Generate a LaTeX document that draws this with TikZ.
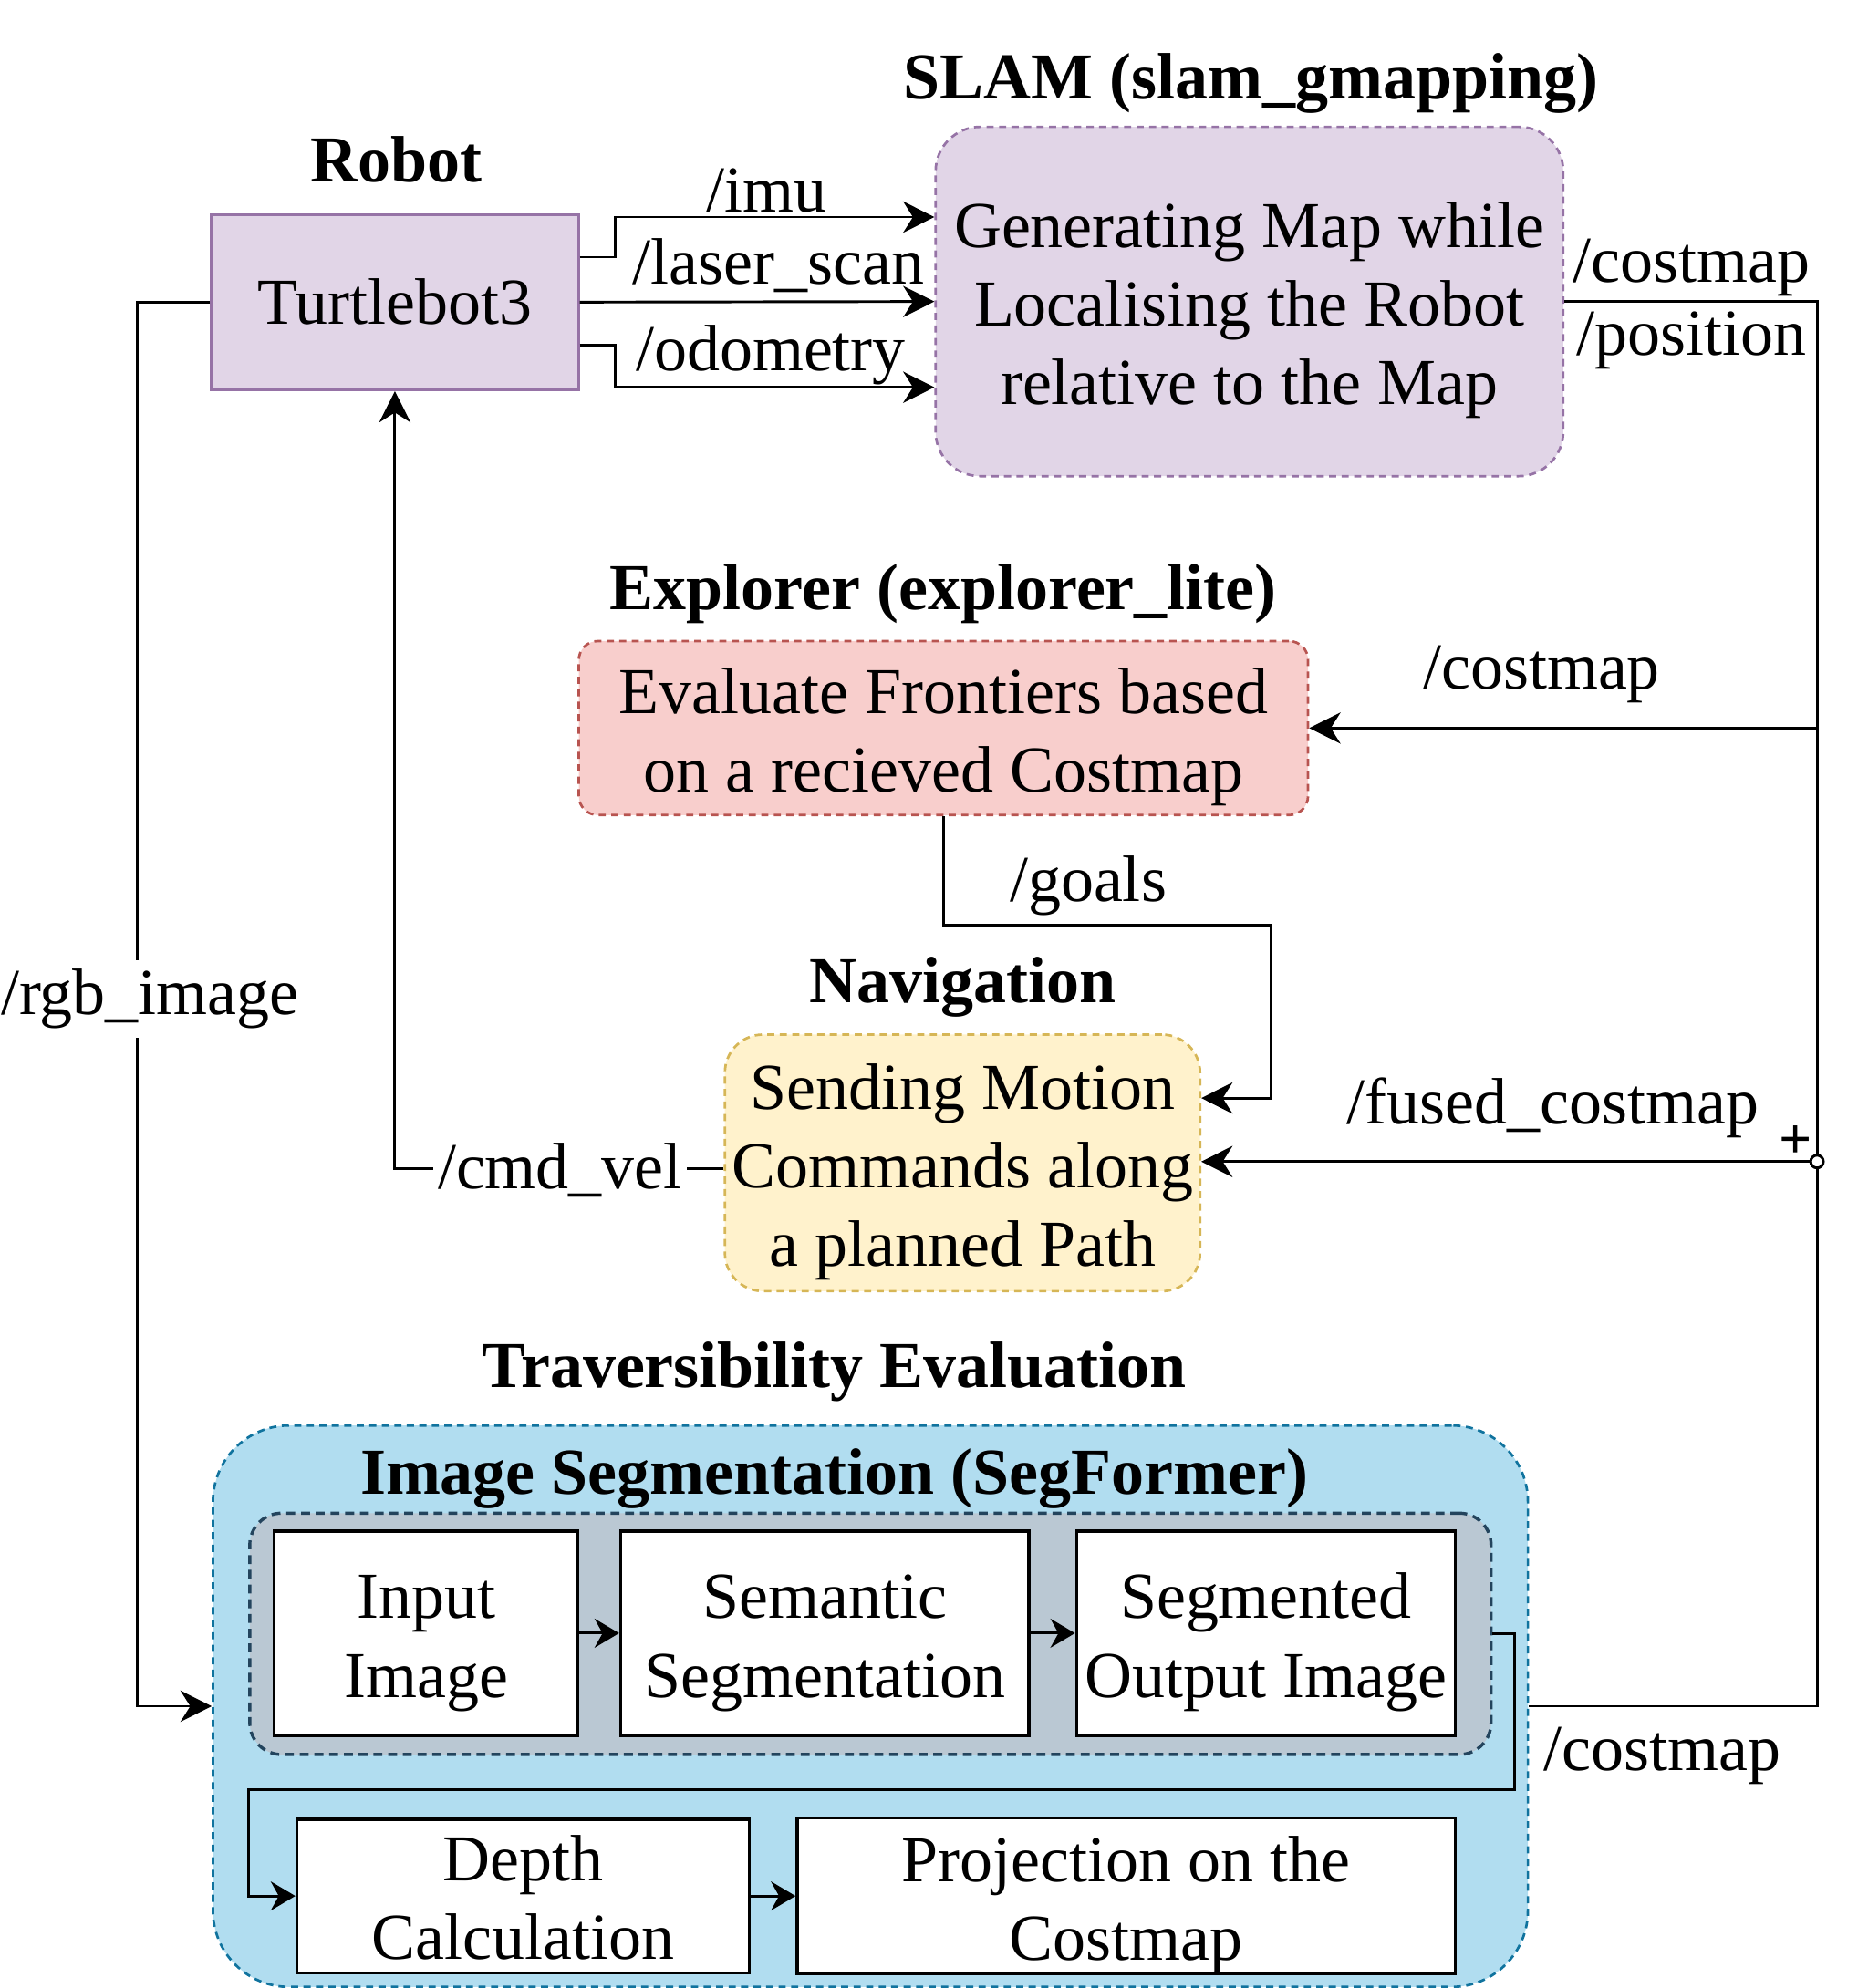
\documentclass[tikz,border=0pt]{standalone}
\usepackage{fontspec}
\setmainfont{Liberation Serif}
\usetikzlibrary{arrows.meta}
\definecolor{purpfill}{HTML}{E1D5E7}
\definecolor{purpline}{HTML}{9673A6}
\definecolor{redfill}{HTML}{F8CECC}
\definecolor{redline}{HTML}{B85450}
\definecolor{yelfill}{HTML}{FFF2CC}
\definecolor{yelline}{HTML}{D6B656}
\definecolor{bluefill}{HTML}{B1DDF0}
\definecolor{blueline}{HTML}{10739E}
\definecolor{grayfill}{HTML}{BAC8D3}
\definecolor{grayline}{HTML}{23445D}
\newcommand{\topstr}[1][14.2pt]{\rule{0pt}{#1}}
\begin{document}
\begin{tikzpicture}[x=0.01cm,y=-0.01cm,
    font=\fontsize{14.7}{17.6}\selectfont,
    >={Stealth[length=7pt,width=7pt,inset=2.2pt]},
    wire/.style={line width=0.6pt},
    small/.style={line width=0.6pt,>={Stealth[length=5.5pt,width=6.5pt,inset=1.8pt]}},
    block/.style={rectangle,draw=black,fill=white,line width=0.75pt,align=center,inner sep=0pt},
    grp/.style={rectangle,align=center,inner sep=0pt,line width=0.55pt,dash pattern=on 1.6pt off 1.2pt},
    title/.style={font=\fontsize{14.7}{17.6}\selectfont\bfseries,anchor=base},
    topic/.style={anchor=base}]
    \useasboundingbox (0,0) rectangle (1463,1566);
    % robot and slam
    \node[title](robottitle)at(312,143){Robot};
    \node[rectangle,draw=purpline,fill=purpfill,line width=0.6pt,inner sep=0pt,minimum width=2.89cm,minimum height=1.38cm](robot)at(311,238){Turtlebot3};
    \node[title](slamtitle)at(985,78){SLAM (slam\_gmapping)};
    \node[grp,draw=purpline,fill=purpfill,rounded corners=0.35cm,minimum width=4.94cm,minimum height=2.75cm](slam)at(984,237.5){\topstr Generating Map while\\Localising the Robot\\relative to the Map};
    % explorer and navigation
    \node[title](exptitle)at(743,480){Explorer (explorer\_lite)};
    \node[grp,draw=redline,fill=redfill,rounded corners=0.15cm,minimum width=5.74cm,minimum height=1.37cm](explorer)at(743,573.5){\topstr Evaluate Frontiers based\\on a recieved Costmap};
    \node[title](navtitle)at(758,790){Navigation};
    \node[grp,draw=yelline,fill=yelfill,rounded corners=0.3cm,minimum width=3.74cm,minimum height=2.02cm](nav)at(758,916){\topstr Sending Motion\\Commands along\\a planned Path};
    % traversibility
    \node[title](travtitle)at(657,1093){Traversibility Evaluation};
    \node[grp,draw=blueline,fill=bluefill,rounded corners=0.6cm,minimum width=10.35cm,minimum height=4.42cm](trav)at(685.5,1344){};
    \node[title](segtitle)at(657,1177){Image Segmentation (SegFormer)};
    \node[grp,draw=grayline,fill=grayfill,line width=0.7pt,dash pattern=on 2pt off 1.3pt,rounded corners=0.25cm,minimum width=9.77cm,minimum height=1.9cm](seggray)at(685.5,1287){};
    \node[block,minimum width=2.39cm,minimum height=1.61cm](input)at(335.5,1286.5){\topstr Input\\Image};
    \node[block,minimum width=3.21cm,minimum height=1.61cm](semantic)at(649.5,1286.5){\topstr Semantic\\Segmentation};
    \node[block,minimum width=2.98cm,minimum height=1.61cm](segout)at(997,1286.5){\topstr Segmented\\Output Image};
    \node[block,minimum width=3.56cm,minimum height=1.21cm](depth)at(412,1493.5){\topstr[11pt]Depth\\Calculation};
    \node[block,minimum width=5.18cm,minimum height=1.21cm](proj)at(887,1493.5){\topstr Projection on the\\Costmap};
    \foreach \a/\b in {input/semantic,semantic/segout,depth/proj} \draw[small,->](\a)--(\b);
    \draw[small,->](seggray.east)--++(17,0)|-(seggray.west|-0,1410)|-(depth.west);
    % topics
    \draw[wire,->]([yshift=0.354cm]robot.east)--++(28,0)|-([yshift=0.665cm]slam.west);
    \draw[wire,->](robot.east)--(slam.west);
    \draw[wire,->]([yshift=-0.336cm]robot.east)--++(28,0)|-([yshift=-0.675cm]slam.west);
    \node[topic](imulbl)at(604,167){/imu};
    \node[topic](laserlbl)at(613,224){/laser\_scan};
    \node[topic](odomlbl)at(607,292){/odometry};
    \node[circle,draw,fill=white,inner sep=0pt,minimum size=0.1cm,line width=0.6pt](junc)at(1431,915){};
    \node[font=\fontsize{13}{13}\selectfont\bfseries,inner sep=0pt](plus)at(1414,900){+};
    \draw[wire](slam.east)-|(junc);
    \draw[wire,->](explorer.east-|junc)--(explorer.east);
    \draw[wire,->](junc)--(nav.east|-junc);
    \draw[wire](trav.east)-|(junc);
    \node[topic](costlbl)at(1332,222){/costmap};
    \node[topic](poslbl)at(1332,280){/position};
    \node[topic](explcostlbl)at(1214,543){/costmap};
    \node[topic](fusedlbl)at(1223,885){/fused\_costmap};
    \node[topic](travcostlbl)at(1309,1395){/costmap};
    \draw[wire,->](explorer.south)|-(1001,729)|-([yshift=0.51cm]nav.east);
    \node[topic](goalslbl)at(857,710){/goals};
    \draw[wire,->]([yshift=-0.045cm]nav.west)-|(robot.south);
    \node[topic,fill=white,inner xsep=1pt,inner ysep=2pt](cmdlbl)at(441,936){/cmd\_vel};
    \draw[wire,->](robot.west)--++(-57,0)|-(trav.west);
    \node[topic,fill=white,inner sep=2pt](rgblbl)at(118,799){/rgb\_image};
\end{tikzpicture}
\end{document}
